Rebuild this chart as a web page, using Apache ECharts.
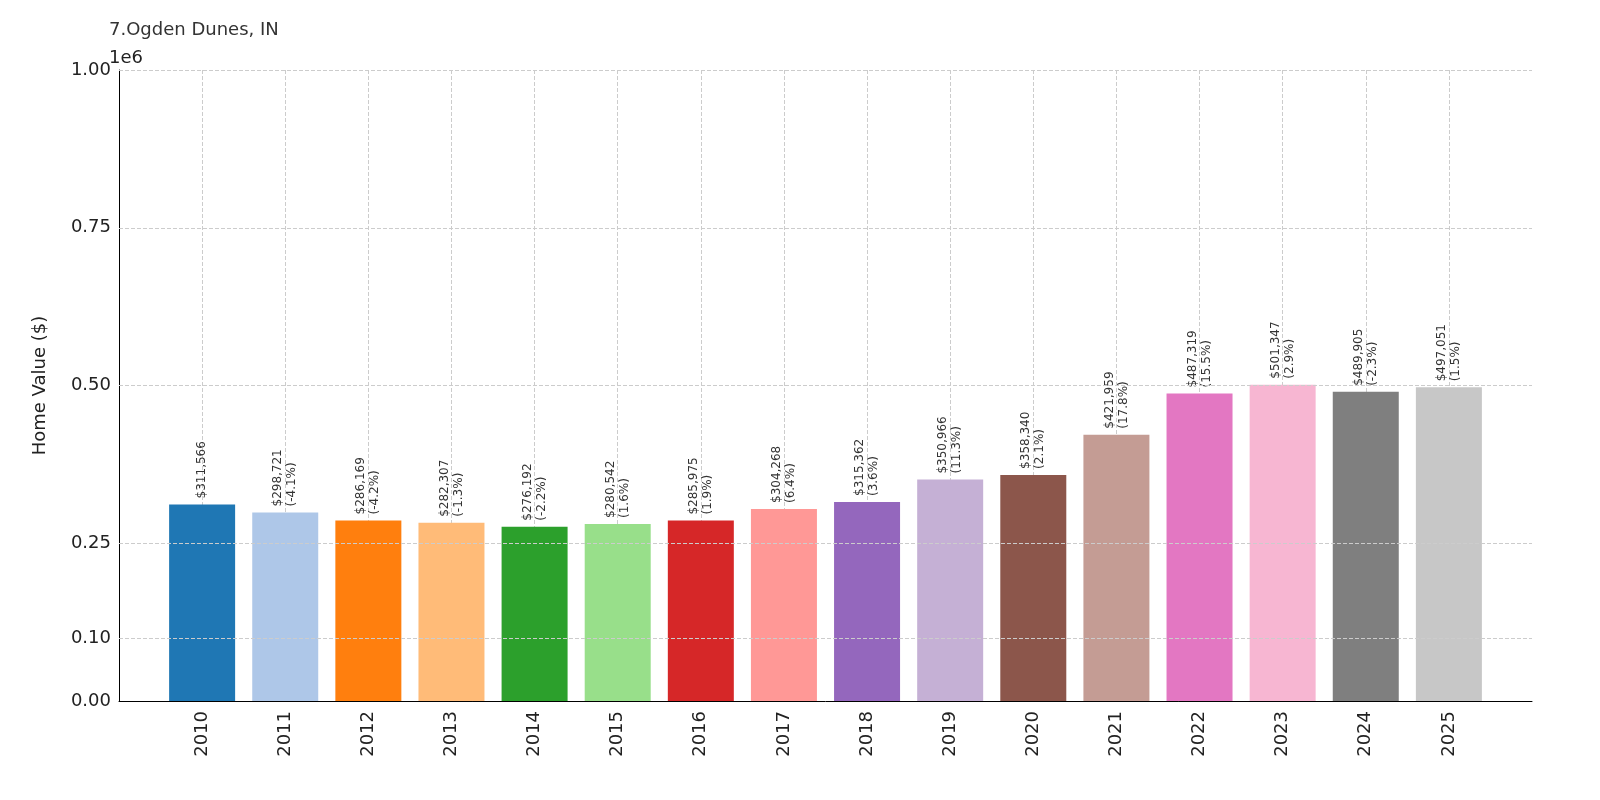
<!DOCTYPE html>
<html><head><meta charset="utf-8">
<script src="https://cdn.jsdelivr.net/npm/echarts@6/dist/echarts.min.js"></script>
<style>html,body{margin:0;padding:0;background:#fff}#c{width:1600px;height:800px}</style>
</head><body><div id="c"></div>
<script>
const years = ['2010','2011','2012','2013','2014','2015','2016','2017','2018','2019','2020','2021','2022','2023','2024','2025'];
const values = [311566,298721,286169,282307,276192,280542,285975,304268,315362,350966,358340,421959,487319,501347,489905,497051];
const changes = [null,'-4.1%','-4.2%','-1.3%','-2.2%','1.6%','1.9%','6.4%','3.6%','11.3%','2.1%','17.8%','15.5%','2.9%','-2.3%','1.5%'];
const colors = ['#1f77b4','#aec7e8','#ff7f0e','#ffbb78','#2ca02c','#98df8a','#d62728','#ff9896','#9467bd','#c5b0d5','#8c564b','#c49c94','#e377c2','#f7b6d2','#7f7f7f','#c7c7c7'];
const yTicks = [0,100000,250000,500000,750000,1000000];
const yTickLabels = ['0.00','0.10','0.25','0.50','0.75','1.00'];

const chart = echarts.init(document.getElementById('c'));
const font = 'DejaVu Sans';
chart.setOption({
  animation:false,
  textStyle:{fontFamily:font},
  title:[{text:'7.Ogden Dunes, IN',left:104,top:16,textStyle:{fontSize:18,fontWeight:'normal',color:'#333',fontFamily:font}},
         {text:'1e6',left:104,top:44,textStyle:{fontSize:18,fontWeight:'normal',color:'#222',fontFamily:font}}],
  grid:{left:119,right:68,top:70,bottom:99},
  xAxis:{type:'value',min:-1,max:16,interval:1,
    axisLine:{onZero:false,lineStyle:{color:'#000'}},
    axisTick:{show:false},
    axisLabel:{rotate:90,fontSize:18,color:'#222',margin:10,
      formatter:v=>years[v]||''},
    splitLine:{show:true,showMinLine:false,showMaxLine:false,lineStyle:{type:'dashed',color:'#ccc'}}},
  yAxis:{type:'value',min:0,max:1000000,interval:50000,
    name:'Home Value ($)',nameLocation:'middle',nameGap:70,nameTextStyle:{fontSize:18,color:'#222'},
    axisLine:{show:true,onZero:false,lineStyle:{color:'#000'}},
    axisTick:{show:false},
    splitLine:{show:false},
    axisLabel:{fontSize:18,color:'#222',formatter:v=>{const i=yTicks.indexOf(v);return i>=0?yTickLabels[i]:'';}}},
  series:[{type:'line',data:[],z:1,
    markLine:{silent:true,symbol:'none',label:{show:false},
      lineStyle:{type:'dashed',color:'#ccc',width:1},
      data:yTicks.slice(1).map(v=>({yAxis:v}))}},
    {type:'bar',barWidth:66,z:3,
    data:values.map((v,i)=>({value:[i,v],itemStyle:{color:colors[i]}})),
    label:{show:true,position:'top',rotate:90,align:'left',verticalAlign:'middle',distance:6,
      fontSize:12,color:'#333',lineHeight:14,
      formatter:p=>{const i=p.dataIndex;const s='$'+values[i].toLocaleString('en-US');return changes[i]?s+'\n('+changes[i]+')':s;}}
  }]
});
</script></body></html>
